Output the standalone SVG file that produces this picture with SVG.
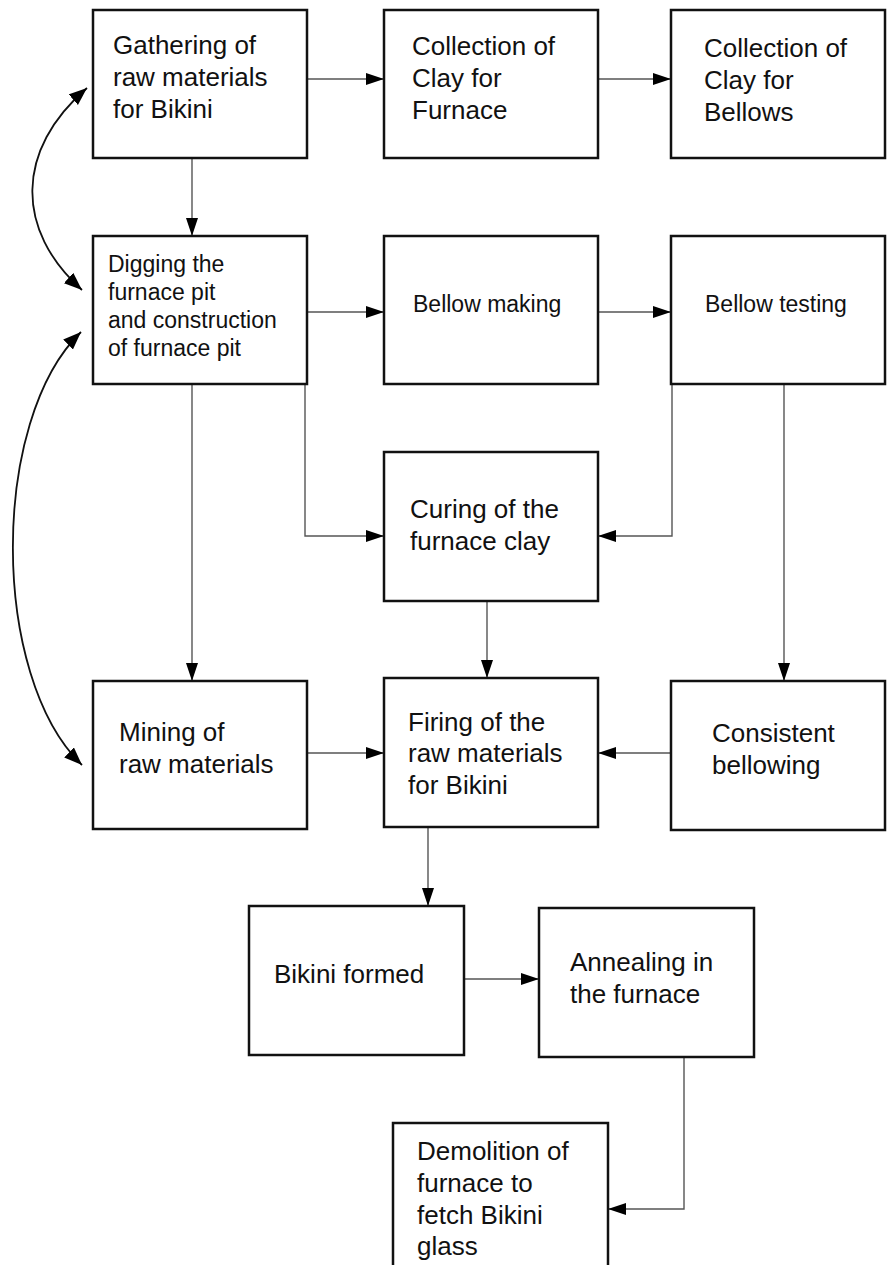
<svg xmlns="http://www.w3.org/2000/svg" width="887" height="1265" viewBox="0 0 887 1265">
<defs>
<style>
.box{fill:#fff;stroke:#111;stroke-width:2.5}
.t{font-family:"Liberation Sans",Arial,sans-serif;font-size:26px;fill:#111}
.s{font-size:23px}
.c{fill:none;stroke:#555;stroke-width:1.4}
.cv{fill:none;stroke:#111;stroke-width:1.8}
</style>
<marker id="ah" markerUnits="userSpaceOnUse" markerWidth="19" markerHeight="13" refX="18" refY="6" orient="auto">
<path d="M0,0 L18,6 L0,12 z" fill="#000"/>
</marker>
<marker id="ahc" markerUnits="userSpaceOnUse" markerWidth="19" markerHeight="15" refX="18" refY="7" orient="auto-start-reverse">
<path d="M0,0 L18,7 L0,14 z" fill="#000"/>
</marker>
</defs>
<rect width="887" height="1265" fill="#fff"/>

<g id="connectors">
<path class="c" d="M307,79 H384" marker-end="url(#ah)"/>
<path class="c" d="M598,79 H671" marker-end="url(#ah)"/>
<path class="c" d="M192,158 V236" marker-end="url(#ah)"/>
<path class="c" d="M307,312 H384" marker-end="url(#ah)"/>
<path class="c" d="M598,312 H671" marker-end="url(#ah)"/>
<path class="c" d="M305,384 V536 H384" marker-end="url(#ah)"/>
<path class="c" d="M672,384 V536 H598" marker-end="url(#ah)"/>
<path class="c" d="M784,384 V681" marker-end="url(#ah)"/>
<path class="c" d="M192,384 V681" marker-end="url(#ah)"/>
<path class="c" d="M487,601 V678" marker-end="url(#ah)"/>
<path class="c" d="M307,753 H384" marker-end="url(#ah)"/>
<path class="c" d="M671,753 H598" marker-end="url(#ah)"/>
<path class="c" d="M428,827 V906" marker-end="url(#ah)"/>
<path class="c" d="M464,979 H539" marker-end="url(#ah)"/>
<path class="c" d="M684,1057 V1209 H608" marker-end="url(#ah)"/>
<path class="cv" d="M87,88 C15,150 15,230 82,290" marker-start="url(#ahc)" marker-end="url(#ahc)"/>
<path class="cv" d="M81,332 C-10,420 -10,676 82,765" marker-start="url(#ahc)" marker-end="url(#ahc)"/>
</g>

<g id="gathering">
<rect class="box" x="93" y="10" width="214" height="148"/>
<text class="t" x="113" y="54">Gathering of</text>
<text class="t" x="113" y="86">raw materials</text>
<text class="t" x="113" y="118">for Bikini</text>
</g>
<g id="clay-furnace">
<rect class="box" x="384" y="10" width="214" height="148"/>
<text class="t" x="412" y="55">Collection of</text>
<text class="t" x="412" y="87">Clay for</text>
<text class="t" x="412" y="119">Furnace</text>
</g>
<g id="clay-bellows">
<rect class="box" x="671" y="10" width="214" height="148"/>
<text class="t" x="704" y="57">Collection of</text>
<text class="t" x="704" y="89">Clay for</text>
<text class="t" x="704" y="121">Bellows</text>
</g>
<g id="digging">
<rect class="box" x="93" y="236" width="214" height="148"/>
<text class="t s" x="108" y="272">Digging the</text>
<text class="t s" x="108" y="300">furnace pit</text>
<text class="t s" x="108" y="328">and construction</text>
<text class="t s" x="108" y="356">of furnace pit</text>
</g>
<g id="bellow-making">
<rect class="box" x="384" y="236" width="214" height="148"/>
<text class="t s" x="413" y="312">Bellow making</text>
</g>
<g id="bellow-testing">
<rect class="box" x="671" y="236" width="214" height="148"/>
<text class="t s" x="705" y="312">Bellow testing</text>
</g>
<g id="curing">
<rect class="box" x="384" y="452" width="214" height="149"/>
<text class="t" x="410" y="518">Curing of the</text>
<text class="t" x="410" y="550">furnace clay</text>
</g>
<g id="mining">
<rect class="box" x="93" y="681" width="214" height="148"/>
<text class="t" x="119" y="741">Mining of</text>
<text class="t" x="119" y="773">raw materials</text>
</g>
<g id="firing">
<rect class="box" x="384" y="678" width="214" height="149"/>
<text class="t" x="408" y="731">Firing of the</text>
<text class="t" x="408" y="762">raw materials</text>
<text class="t" x="408" y="794">for Bikini</text>
</g>
<g id="consistent">
<rect class="box" x="671" y="681" width="214" height="149"/>
<text class="t" x="712" y="742">Consistent</text>
<text class="t" x="712" y="774">bellowing</text>
</g>
<g id="bikini-formed">
<rect class="box" x="249" y="906" width="215" height="149"/>
<text class="t" x="274" y="983">Bikini formed</text>
</g>
<g id="annealing">
<rect class="box" x="539" y="908" width="215" height="149"/>
<text class="t" x="570" y="971">Annealing in</text>
<text class="t" x="570" y="1003">the furnace</text>
</g>
<g id="demolition">
<rect class="box" x="393" y="1123" width="215" height="160"/>
<text class="t" x="417" y="1160">Demolition of</text>
<text class="t" x="417" y="1192">furnace to</text>
<text class="t" x="417" y="1224">fetch Bikini</text>
<text class="t" x="417" y="1255">glass</text>
</g>
</svg>
